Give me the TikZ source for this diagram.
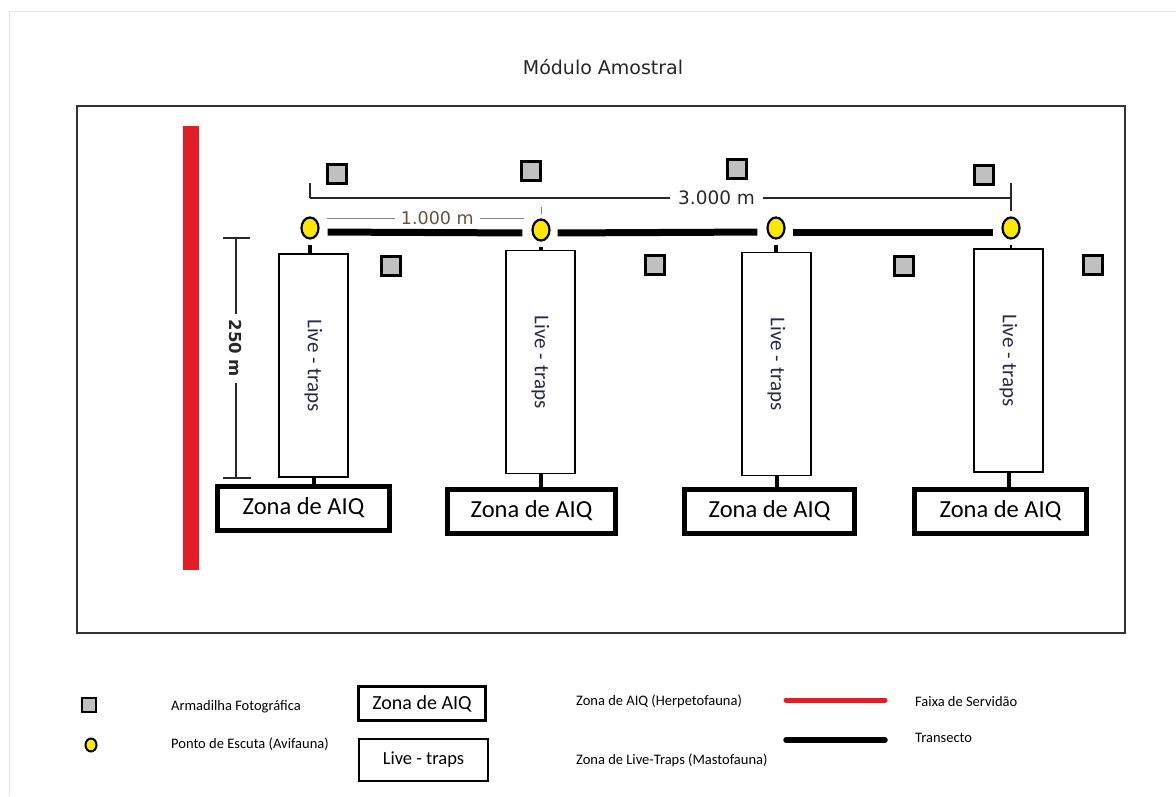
\documentclass[tikz,border=0pt]{standalone}
\usepackage{fontspec}
\setmainfont{Carlito}
\newfontfamily\dejavu{DejaVu Sans}
\usetikzlibrary{shapes.geometric}

\begin{document}
\begin{tikzpicture}[x=1pt, y=-1pt,
  camtrap/.style={draw, line width=3pt, fill=camgray, minimum size=19pt, inner sep=0pt},
  listenpt/.style={ellipse, draw, line width=2.2pt, fill=pointyellow, minimum width=17pt, minimum height=21pt, inner sep=0pt},
  livebox/.style={draw, line width=1.6pt, fill=white, minimum width=69pt, minimum height=223pt, inner sep=0pt,
    label={[rotate=-90, text=livetext, font=\fontsize{21}{24}\selectfont]center:Live - traps}},
  aiqbox/.style={draw, line width=5pt, fill=white, inner sep=0pt, minimum height=44pt, font=\fontsize{24.5}{28}\selectfont},
  transect/.style={line width=7pt},
  stub/.style={line width=4pt},
  dimline/.style={line width=1.6pt, draw=dimgray},
  legendtext/.style={anchor=west, inner sep=0pt, font=\fontsize{14.5}{17}\selectfont},
]

\definecolor{camgray}{RGB}{192, 192, 192}
\definecolor{pointyellow}{RGB}{255, 232, 0}
\definecolor{servred}{RGB}{228, 28, 38}
\definecolor{livetext}{RGB}{40, 40, 70}
\definecolor{dimgray}{RGB}{40, 40, 40}
\definecolor{smalldim}{RGB}{130, 130, 130}
\definecolor{smalltext}{RGB}{100, 82, 62}
\definecolor{lightframe}{RGB}{228, 228, 228}

\useasboundingbox (0, 0) rectangle (1176, 796);
\draw[lightframe, line width=1pt] (9, 796) -- (9, 11) -- (1176, 11);

\node[font=\dejavu\fontsize{19}{22}\selectfont, text=black!85] (title) at (603, 67) {Módulo Amostral};
\draw[line width=1.5pt, draw=black!80] (77, 106) rectangle (1125, 633);

% faixa de servidao
\fill[servred] (183, 126) rectangle (199, 570);

% pontos de escuta e transecto
\node[listenpt] (p1) at (310, 228) {};
\node[listenpt] (p2) at (541, 230) {};
\node[listenpt] (p3) at (776, 228) {};
\node[listenpt] (p4) at (1011, 228) {};

\draw[transect, shorten <=8pt, shorten >=9pt] ([yshift=-4pt]p1.east) -- ([yshift=-3pt]p2.west);
\draw[transect, shorten <=7pt, shorten >=9pt] ([yshift=-3pt]p2.east) -- ([yshift=-4pt]p3.west);
\draw[transect, shorten <=7pt, shorten >=8pt] ([yshift=-4pt]p3.east) -- ([yshift=-4pt]p4.west);

% armadilhas fotograficas
\node[camtrap] (cam1) at (337, 174) {};
\node[camtrap] (cam2) at (531, 171) {};
\node[camtrap] (cam3) at (737, 169) {};
\node[camtrap] (cam4) at (984, 175) {};
\node[camtrap] (cam5) at (391, 266) {};
\node[camtrap] (cam6) at (655, 265) {};
\node[camtrap] (cam7) at (904, 266) {};
\node[camtrap] (cam8) at (1093, 265) {};

% live-traps
\node[livebox] (lt1) at (313.5, 365.5) {};
\node[livebox] (lt2) at (540.5, 362) {};
\node[livebox] (lt3) at (776.5, 364) {};
\node[livebox] (lt4) at (1008.5, 360.5) {};

\draw[stub, shorten <=5pt] (p1.south) -- (lt1.north -| p1);
\draw[stub, shorten <=5pt] (p2.south) -- (lt2.north -| p2);
\draw[stub, shorten <=5pt] (p3.south) -- (lt3.north -| p3);
\draw[line width=2.5pt, shorten <=5pt] (p4.south) -- (lt4.north -| p4);

% zonas de AIQ
\node[aiqbox, minimum width=172pt] (aiq1) at (303.5, 508) {Zona de AIQ};
\node[aiqbox, minimum width=168pt] (aiq2) at (531.5, 511) {Zona de AIQ};
\node[aiqbox, minimum width=170pt] (aiq3) at (769.5, 511) {Zona de AIQ};
\node[aiqbox, minimum width=172pt] (aiq4) at (1000.5, 511) {Zona de AIQ};

\draw[stub] (lt1.south) -- (lt1.south |- aiq1.north);
\draw[stub] (lt2.south) -- (lt2.south |- aiq2.north);
\draw[stub] (lt3.south) -- (lt3.south |- aiq3.north);
\draw[stub] (lt4.south) -- (lt4.south |- aiq4.north);

% cotas
\coordinate (d3l) at (310, 198);
\coordinate (d3r) at (1011, 198);
\draw[dimline] (310, 183) -- (d3l);
\draw[dimline] (1011, 183) -- (1011, 211);
\draw[dimline] (d3l) -- node[pos=0.58, fill=white, inner xsep=8pt, inner ysep=1pt, text=dimgray,
  font=\dejavu\fontsize{18.5}{21}\selectfont] (lbl3000) {3.000 m} (d3r);

\coordinate (d1l) at (327, 218);
\coordinate (d1r) at (524, 218);
\draw[smalldim, line width=1pt] (d1l) -- node[pos=0.56, fill=white, inner xsep=6pt, inner ysep=1pt, text=smalltext,
  font=\dejavu\fontsize{17.5}{20}\selectfont] (lbl1000) {1.000 m} (d1r);
\draw[smalldim, line width=1pt] (541, 207) -- (541, 214);

\coordinate (d250t) at (236, 238);
\coordinate (d250b) at (236, 478);
\draw[dimline] (223, 238) -- (250, 238);
\draw[dimline] (223, 478) -- (251, 478);
\draw[dimline] (d250t) -- node[pos=0.46, fill=white, rotate=-90, inner xsep=6pt, inner ysep=1pt, text=dimgray,
  font=\dejavu\bfseries\fontsize{16.5}{19}\selectfont] (lbl250) {250 m} (d250b);

% legenda
\node[camtrap, line width=2.5pt, minimum size=14pt] (legcam) at (89, 705) {};
\node[listenpt, line width=2pt, minimum width=11pt, minimum height=13pt] (legpt) at (91, 745) {};
\node[legendtext] (txtcam) at (171, 707) {Armadilha Fotográfica};
\node[legendtext] (txtpt) at (171, 744) {Ponto de Escuta (Avifauna)};

\node[draw, line width=3.5pt, minimum width=127pt, minimum height=34pt, inner sep=0pt,
  font=\fontsize{20}{23}\selectfont] (legaiq) at (422, 703.5) {Zona de AIQ};
\node[draw, line width=2pt, minimum width=129pt, minimum height=42pt, inner sep=0pt,
  font=\fontsize{18.5}{21}\selectfont] (leglive) at (423.5, 760) {Live - traps};
\node[legendtext] (txtaiq) at (576, 701) {Zona de AIQ (Herpetofauna)};
\node[legendtext] (txtlive) at (576, 760) {Zona de Live-Traps (Mastofauna)};

\draw[servred, line width=5pt, line cap=round] (786, 700) -- (885, 700);
\draw[black, line width=5.5pt, line cap=round] (786, 740) -- (885, 740);
\node[legendtext] (txtserv) at (915, 702) {Faixa de Servidão};
\node[legendtext] (txttrans) at (915, 738) {Transecto};

\end{tikzpicture}
\end{document}
